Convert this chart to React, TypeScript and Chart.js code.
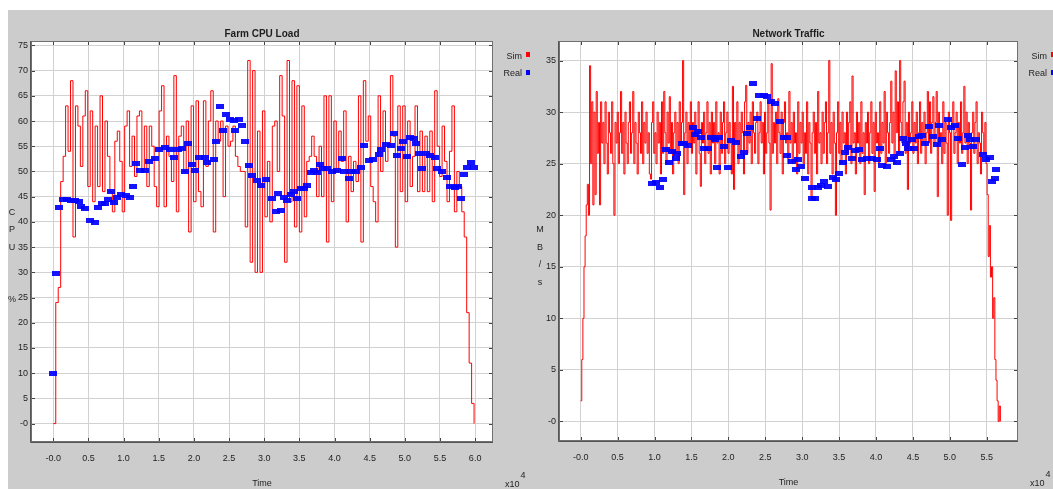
import React, { useEffect, useRef } from 'react';
import { Chart, registerables } from 'chart.js';

Chart.register(...registerables);

const FONT = '"Liberation Sans", Arial, sans-serif';

// ---------- Farm CPU Load ----------
const CPU_TITLE = 'Farm CPU Load';
const CPU_Y_TITLE = ['C', 'P', 'U', ' ', ' ', '%'];
const CPU_SIM_STEP = 0.035; // x10^4 s between simulated samples
const CPU_SIM = [
  0, 24, 27, 48, 53, 63, 54, 68, 37, 63,
  59, 51, 61, 66, 47, 62, 44, 59, 47, 65,
  46, 60, 53, 46, 42, 56, 58, 52, 42, 59,
  62, 51, 57, 49, 61, 62, 50, 59, 47, 59,
  55, 47, 43, 62, 67, 43, 57, 53, 48, 69,
  42, 57, 59, 50, 60, 38, 63, 44, 64, 46,
  43, 64, 51, 60, 66, 38, 60, 56, 60, 45,
  59, 55, 56, 59, 53, 51, 50, 50, 39, 72,
  32, 70, 30, 58, 30, 62, 41, 52, 40, 59,
  60, 50, 69, 61, 32, 72, 44, 68, 39, 67,
  38, 63, 41, 52, 53, 57, 53, 45, 55, 45,
  65, 36, 65, 44, 60, 50, 58, 52, 62, 40,
  53, 46, 52, 48, 65, 36, 68, 56, 61, 47,
  44, 40, 65, 50, 62, 52, 55, 69, 57, 35,
  63, 46, 63, 44, 60, 47, 53, 63, 46, 58,
  46, 57, 46, 58, 44, 66, 55, 49, 59, 52,
  44, 54, 63, 42, 50, 47, 42, 37, 22, 12,
  4, 0,
];
const CPU_REAL_TIME = [
  0.0, 0.04, 0.08, 0.14, 0.2, 0.25, 0.31, 0.36, 0.4, 0.45,
  0.52, 0.59, 0.64, 0.69, 0.73, 0.78, 0.82, 0.86, 0.91, 0.97,
  1.03, 1.09, 1.14, 1.18, 1.23, 1.31, 1.36, 1.45, 1.5, 1.59,
  1.66, 1.72, 1.78, 1.83, 1.87, 1.91, 1.97, 2.01, 2.07, 2.16,
  2.19, 2.28, 2.31, 2.37, 2.42, 2.46, 2.52, 2.57, 2.59, 2.64,
  2.69, 2.73, 2.78, 2.83, 2.9, 2.95, 3.03, 3.11, 3.17, 3.19,
  3.24, 3.28, 3.33, 3.38, 3.43, 3.47, 3.52, 3.57, 3.61, 3.66,
  3.71, 3.75, 3.79, 3.83, 3.9, 3.97, 4.03, 4.11, 4.14, 4.2,
  4.23, 4.3, 4.38, 4.42, 4.49, 4.55, 4.63, 4.66, 4.73, 4.8,
  4.84, 4.89, 4.94, 4.98, 5.03, 5.08, 5.13, 5.16, 5.2, 5.25,
  5.3, 5.36, 5.43, 5.46, 5.53, 5.6, 5.64, 5.71, 5.76, 5.8,
  5.84, 5.89, 5.94, 5.98,
];
const CPU_REAL = [
  10, 29.8, 42.8, 44.4, 44.4, 44.3, 44.3, 44.1, 43.1, 42.6,
  40.3, 39.8, 42.9, 43.6, 43.7, 44.4, 46.1, 43.8, 44.9, 45.4,
  45.2, 44.9, 47.0, 51.5, 50.2, 50.1, 52.0, 52.6, 54.4, 54.7,
  54.3, 52.8, 54.4, 54.5, 49.9, 55.5, 51.4, 50.2, 52.8, 52.8,
  51.8, 52.4, 55.9, 62.9, 58.1, 61.2, 60.4, 60.1, 58.1, 60.4,
  59.2, 56.0, 51.2, 49.2, 48.2, 47.2, 48.4, 44.7, 42.1, 45.7,
  42.3, 44.9, 44.3, 45.4, 46.0, 44.7, 46.7, 46.6, 47.2, 49.7,
  50.2, 49.7, 51.3, 50.5, 50.5, 50.0, 50.2, 52.6, 50.0, 48.7,
  50.0, 50.0, 50.7, 55.2, 52.2, 52.3, 53.3, 54.4, 55.3, 55.2,
  57.5, 53.2, 54.6, 55.9, 53.0, 56.8, 56.5, 55.5, 53.5, 50.5,
  53.5, 53.2, 52.8, 50.5, 49.9, 48.8, 47.1, 46.9, 47.1, 44.7,
  49.4, 50.7, 51.8, 50.7,
];
const CPU_X_TICKS = [0, 0.5, 1.0, 1.5, 2.0, 2.5, 3.0, 3.5, 4.0, 4.5, 5.0, 5.5, 6.0];
const CPU_Y_TICKS = [0, 5, 10, 15, 20, 25, 30, 35, 40, 45, 50, 55, 60, 65, 70, 75];

// ---------- Network Traffic ----------
const NET_TITLE = 'Network Traffic';
const NET_Y_TITLE = ['M', 'B', '/', 's'];
const NET_SIM_STEP = 0.015; // x10^4 s between simulated samples
const NET_SIM = [
  2, 6, 10, 15, 18, 21, 23, 20, 34.5, 25,
  31, 21, 30, 22, 32, 26, 29, 21, 31, 27,
  29, 25, 31, 27, 24, 30, 28, 26, 31, 25,
  20, 29, 27, 30, 25, 28, 32, 26, 29, 24,
  30, 27, 25, 29, 31, 26, 28, 32, 25, 29,
  27, 24, 30, 28, 26, 31, 25, 29, 27, 30,
  26, 28, 24, 23.5, 29, 31, 26, 28, 25, 30,
  27, 29, 24, 31, 26, 32, 28, 25, 30, 27,
  31.5, 26, 29, 24, 28, 30, 26, 29, 25, 31,
  27, 29, 35, 22, 28, 30, 25, 29, 27, 31,
  26, 29, 27, 30, 24, 28, 31, 26, 22.8, 29,
  27, 30, 25, 28, 31, 26, 29, 24, 30, 27,
  29, 25, 31, 27, 28, 24, 30, 26, 29, 31,
  25, 28, 30, 26, 29, 27, 24, 32.5, 22.5, 29,
  27, 31, 25, 29, 26, 30, 28, 24, 31, 32.6,
  26, 29, 27, 30, 25, 31, 28, 26, 29, 30,
  25, 28, 31, 27, 29, 24, 30, 26, 28, 31,
  27, 20.5, 34.7, 26, 29, 27, 30, 25, 31.3, 28,
  26, 30, 24, 29, 31, 27, 28, 25, 32, 27,
  29, 25, 30, 27, 28, 24, 31, 26, 29, 27,
  30, 25, 28, 26, 31, 24, 29, 27, 21.5, 28,
  30, 26, 29, 24, 32, 27, 28, 25, 30, 26,
  29, 31, 25, 28, 35, 26, 29, 24, 30, 27,
  20, 28, 31, 26, 29, 25, 30, 27, 28, 24,
  30, 26, 29, 31, 25, 33.5, 27, 28, 24, 30,
  27, 29, 25, 31, 26, 28, 22, 29, 27, 30,
  25, 28, 31, 26, 29, 22.3, 30, 27, 28, 25,
  31, 26, 29, 27, 32, 25, 30, 28, 26, 29,
  33, 27, 30, 25, 34, 28, 31, 26, 35, 29,
  27, 31, 33, 26, 29, 22.5, 30, 27, 28, 31,
  26, 29, 27, 30, 25, 28, 31, 26, 29, 27,
  30, 25, 28, 32, 27, 31, 26, 29, 31.5, 27,
  29, 32, 21.8, 30, 27, 28, 25, 31, 26, 29,
  27, 20, 30, 28, 19.5, 29, 31, 26, 28, 30,
  25, 29, 27, 31, 26, 28, 32.5, 27, 30, 25,
  29, 27, 20.5, 28, 30, 26, 29, 31, 25, 28,
  27, 24, 30, 28, 26, 29, 25, 22, 16, 19,
  14, 15, 10, 12, 6, 4, 2, 0, 1.5, 0,
];
const NET_REAL_TIME = [
  0.96, 1.02, 1.08, 1.11, 1.15, 1.2, 1.24, 1.29, 1.31, 1.37,
  1.4, 1.46, 1.52, 1.55, 1.59, 1.63, 1.67, 1.73, 1.76, 1.82,
  1.84, 1.88, 1.94, 2.0, 2.04, 2.11, 2.17, 2.21, 2.25, 2.29,
  2.34, 2.39, 2.42, 2.48, 2.52, 2.58, 2.63, 2.7, 2.75, 2.79,
  2.8, 2.86, 2.92, 2.95, 2.99, 3.04, 3.13, 3.13, 3.17, 3.21,
  3.25, 3.3, 3.35, 3.42, 3.46, 3.5, 3.55, 3.58, 3.62, 3.68,
  3.71, 3.77, 3.81, 3.88, 3.95, 4.02, 4.06, 4.08, 4.15, 4.2,
  4.24, 4.28, 4.32, 4.36, 4.4, 4.44, 4.49, 4.52, 4.58, 4.62,
  4.67, 4.72, 4.77, 4.82, 4.86, 4.9, 4.97, 5.01, 5.07, 5.11,
  5.16, 5.2, 5.25, 5.28, 5.32, 5.36, 5.45, 5.49, 5.54, 5.57,
  5.61, 5.62,
];
const NET_REAL = [
  23.1, 23.2, 22.7, 23.5, 26.4, 25.1, 26.2, 25.5, 26.0, 27.0,
  27.0, 26.8, 28.5, 27.8, 28.1, 27.5, 26.5, 26.5, 27.5, 27.3,
  24.6, 27.5, 26.7, 24.6, 27.2, 27.1, 25.7, 26.1, 27.9, 28.5,
  32.8, 29.4, 31.6, 31.6, 31.5, 31.0, 30.8, 29.1, 27.5, 25.8,
  27.5, 25.2, 24.4, 25.4, 24.7, 23.6, 22.7, 21.6, 21.6, 22.7,
  22.9, 23.3, 22.8, 23.7, 23.5, 24.0, 25.1, 26.1, 26.6, 25.5,
  26.3, 26.4, 25.4, 25.5, 25.5, 25.4, 26.5, 24.8, 24.7, 25.4,
  25.7, 25.1, 26.0, 27.4, 27.0, 26.5, 27.3, 26.5, 27.6, 27.7,
  27.0, 28.6, 27.6, 26.9, 28.7, 27.3, 29.3, 28.5, 28.7, 27.4,
  24.9, 26.6, 27.7, 27.3, 26.7, 27.3, 25.9, 25.4, 25.6, 23.3,
  23.6, 24.4,
];
const NET_X_TICKS = [0, 0.5, 1.0, 1.5, 2.0, 2.5, 3.0, 3.5, 4.0, 4.5, 5.0, 5.5];
const NET_Y_TICKS = [0, 5, 10, 15, 20, 25, 30, 35];

type Panel = {
  title: string;
  yTitle: string[];
  simStep: number;
  sim: number[];
  realTime: number[];
  real: number[];
  xTicks: number[];
  yTicks: number[];
  xMin: number;
  xMax: number;
  yMin: number;
  yMax: number;
  width: number;
  height: number;
  padRight: number;
  yAxisWidth: number;
  xAxisHeight: number;
  timeY: number;
};

function rectStyle(color: string, w: number, h: number) {
  const c = document.createElement('canvas');
  c.width = w;
  c.height = h;
  const g = c.getContext('2d')!;
  g.fillStyle = color;
  g.fillRect(0, 0, w, h);
  return c;
}

function decorPlugin(p: Panel) {
  return {
    id: 'decor',
    beforeDraw(chart: any) {
      const { ctx, chartArea: a } = chart;
      ctx.save();
      ctx.fillStyle = '#ffffff';
      ctx.fillRect(a.left, a.top, a.right - a.left, a.bottom - a.top);
      ctx.restore();
    },
    afterDraw(chart: any) {
      const { ctx, chartArea: a } = chart;
      const xs = chart.scales.x;
      const ys = chart.scales.y;
      ctx.save();
      // frame
      ctx.strokeStyle = '#707070';
      ctx.lineWidth = 1;
      ctx.strokeRect(a.left - 0.5, a.top - 0.5, a.right - a.left + 1, a.bottom - a.top + 1);
      ctx.strokeStyle = '#555555';
      ctx.beginPath();
      ctx.moveTo(a.left - 1.5, a.top - 1);
      ctx.lineTo(a.left - 1.5, a.bottom + 1.5);
      ctx.lineTo(a.right + 1, a.bottom + 1.5);
      ctx.stroke();
      // inner tick marks
      ctx.strokeStyle = '#444444';
      ctx.beginPath();
      for (const v of p.xTicks) {
        const px = Math.round(xs.getPixelForValue(v)) + 0.5;
        ctx.moveTo(px, a.top);
        ctx.lineTo(px, a.top + 3);
        ctx.moveTo(px, a.bottom);
        ctx.lineTo(px, a.bottom - 3);
      }
      for (const v of p.yTicks) {
        const py = Math.round(ys.getPixelForValue(v)) + 0.5;
        ctx.moveTo(a.left, py);
        ctx.lineTo(a.left + 3, py);
        ctx.moveTo(a.right, py);
        ctx.lineTo(a.right - 3, py);
      }
      ctx.stroke();
      // title
      ctx.fillStyle = '#1e1e1e';
      ctx.textBaseline = 'middle';
      ctx.textAlign = 'center';
      ctx.font = `bold 10px ${FONT}`;
      ctx.fillText(p.title, (a.left + a.right) / 2, 24.5);
      // legend
      ctx.font = `9px ${FONT}`;
      ctx.textAlign = 'right';
      ctx.fillText('Sim', a.right + 30, 46.5);
      ctx.fillText('Real', a.right + 30, 64);
      ctx.fillStyle = '#ff0000';
      ctx.fillRect(a.right + 34, 42, 5, 5);
      ctx.fillStyle = '#0000ff';
      ctx.fillRect(a.right + 34, 60, 5, 5);
      // vertical y-axis title
      ctx.fillStyle = '#1e1e1e';
      ctx.textAlign = 'center';
      const n = p.yTitle.length;
      const start = 246 - ((n - 1) * 17.5) / 2;
      p.yTitle.forEach((ch, k) => {
        ctx.fillText(ch, a.left - 20, start + k * 17.5);
      });
      // x-axis title
      ctx.fillText('Time', (a.left + a.right) / 2, p.timeY);
      // exponent
      ctx.textAlign = 'left';
      const ex = a.right + 13;
      ctx.fillText('x10', ex, p.timeY + 1);
      const w = ctx.measureText('x10').width;
      ctx.fillText('4', ex + w + 1, p.timeY - 8);
      ctx.restore();
    },
  };
}

function ChartPanel({ p, left }: { p: Panel; left: number }) {
  const ref = useRef<HTMLCanvasElement | null>(null);
  useEffect(() => {
    if (!ref.current) return;
    const simData = p.sim.map((v, i) => ({ x: i * p.simStep, y: v }));
    const realData = p.realTime.map((t, i) => ({ x: t, y: p.real[i] }));
    const chart = new Chart(ref.current, {
      type: 'line',
      data: {
        datasets: [
          {
            label: 'Real',
            data: realData,
            showLine: false,
            pointStyle: rectStyle('rgba(0,0,255,0.92)', 8, 5) as any,
            pointRadius: 3,
            order: 0,
          },
          {
            label: 'Sim',
            data: simData,
            borderColor: '#ff0000',
            borderWidth: 1,
            pointRadius: 0,
            stepped: true,
            fill: false,
            order: 1,
          },
        ],
      },
      options: {
        responsive: false,
        animation: false,
        devicePixelRatio: 1,
        events: [],
        layout: { padding: { left: 0, right: p.padRight, top: 32, bottom: 0 } },
        plugins: { legend: { display: false }, title: { display: false }, tooltip: { enabled: false } },
        scales: {
          x: {
            type: 'linear',
            min: p.xMin,
            max: p.xMax,
            afterBuildTicks: (s: any) => {
              s.ticks = p.xTicks.map((v) => ({ value: v }));
            },
            afterFit: (s: any) => {
              s.height = p.xAxisHeight;
            },
            grid: { color: '#d2d2d2', lineWidth: 1, drawTicks: false },
            border: { display: false },
            ticks: {
              padding: 12,
              maxRotation: 0,
              autoSkip: false,
              color: '#1e1e1e',
              font: { family: FONT, size: 9 },
              callback: (v: any) => (Number(v) === 0 ? '-0.0' : Number(v).toFixed(1)),
            },
          },
          y: {
            type: 'linear',
            min: p.yMin,
            max: p.yMax,
            afterBuildTicks: (s: any) => {
              s.ticks = p.yTicks.map((v) => ({ value: v }));
            },
            afterFit: (s: any) => {
              s.width = p.yAxisWidth;
            },
            grid: { color: '#d2d2d2', lineWidth: 1, drawTicks: false },
            border: { display: false },
            ticks: {
              padding: 4,
              autoSkip: false,
              color: '#1e1e1e',
              font: { family: FONT, size: 9 },
              callback: (v: any) => (Number(v) === 0 ? '-0' : String(v)),
            },
          },
        },
      },
      plugins: [decorPlugin(p)],
    });
    return () => chart.destroy();
  }, [p]);
  return (
    <canvas
      ref={ref}
      width={p.width}
      height={p.height}
      style={{ position: 'absolute', left, top: 0, width: p.width, height: p.height }}
    />
  );
}

const CPU_PANEL: Panel = {
  title: CPU_TITLE,
  yTitle: CPU_Y_TITLE,
  simStep: CPU_SIM_STEP,
  sim: CPU_SIM,
  realTime: CPU_REAL_TIME,
  real: CPU_REAL,
  xTicks: CPU_X_TICKS,
  yTicks: CPU_Y_TICKS,
  xMin: -0.303,
  xMax: 6.24,
  yMin: -3.45,
  yMax: 75.67,
  width: 522,
  height: 479,
  padRight: 38,
  yAxisWidth: 24,
  xAxisHeight: 48,
  timeY: 474,
};

const NET_PANEL: Panel = {
  title: NET_TITLE,
  yTitle: NET_Y_TITLE,
  simStep: NET_SIM_STEP,
  sim: NET_SIM,
  realTime: NET_REAL_TIME,
  real: NET_REAL,
  xTicks: NET_X_TICKS,
  yTicks: NET_Y_TICKS,
  xMin: -0.28,
  xMax: 5.91,
  yMin: -1.8,
  yMax: 36.8,
  width: 540,
  height: 479,
  padRight: 53,
  yAxisWidth: 30,
  xAxisHeight: 49,
  timeY: 473,
};

export default function App() {
  return (
    <div
      style={{
        position: 'absolute',
        left: 8,
        top: 10,
        width: 1045,
        height: 479,
        background: '#cccccc',
        overflow: 'hidden',
      }}
    >
      <ChartPanel p={CPU_PANEL} left={0} />
      <ChartPanel p={NET_PANEL} left={522} />
    </div>
  );
}
